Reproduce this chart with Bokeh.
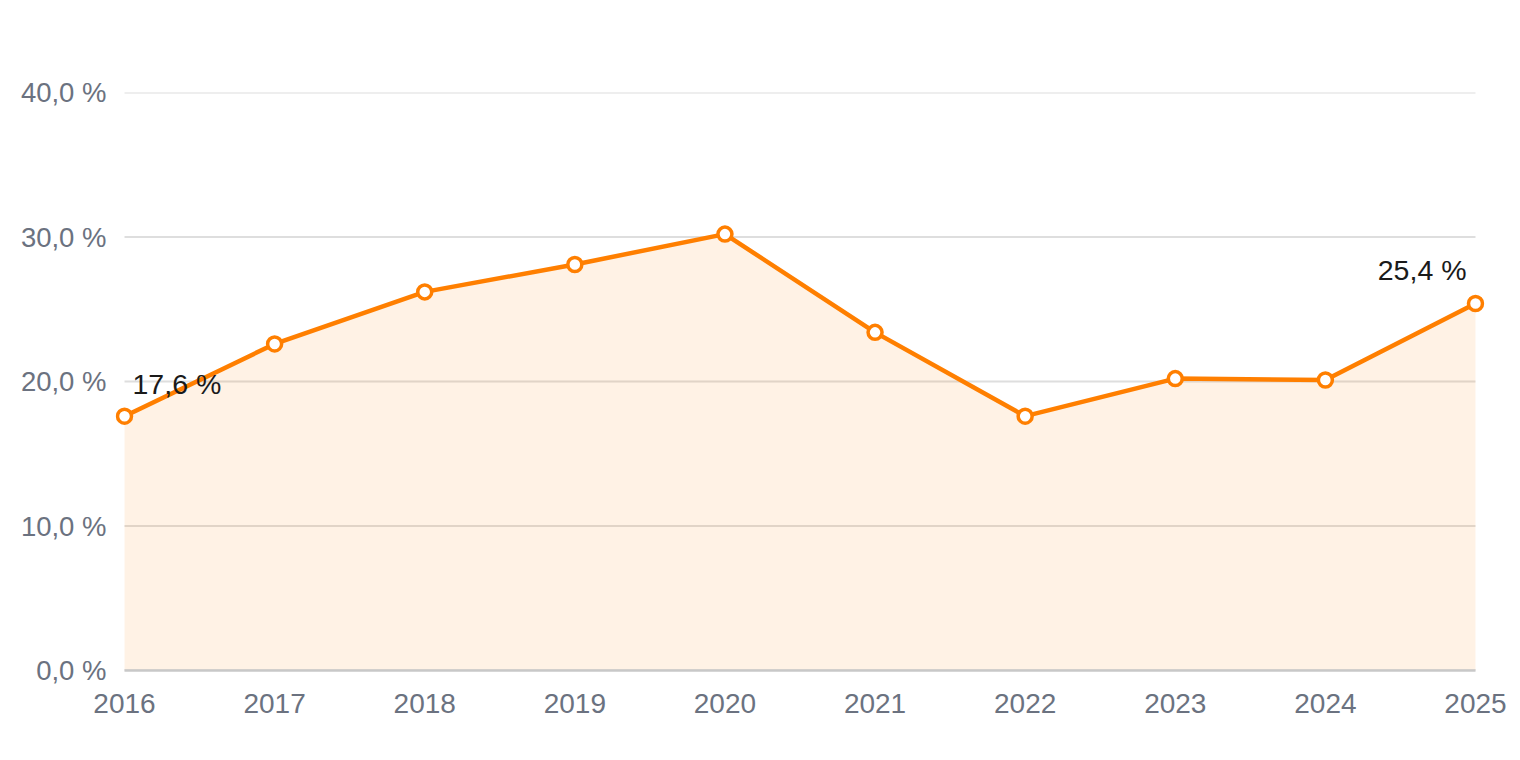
from bokeh.plotting import figure
from bokeh.models import Range1d, FixedTicker, CustomJSTickFormatter, ColumnDataSource
from bokeh.core.properties import value
from bokeh.embed import file_html
from bokeh.resources import INLINE

years = [2016, 2017, 2018, 2019, 2020, 2021, 2022, 2023, 2024, 2025]
share = [17.6, 22.6, 26.2, 28.1, 30.2, 23.4, 17.6, 20.2, 20.1, 25.4]
y_ticks = [0, 10, 20, 30, 40]

ORANGE = "#ff7f00"
GREY_TXT = "#6b7280"
FONT = "Liberation Sans"

pad = 0.06  # a little room so the end markers are not clipped
p = figure(width=1512, height=752, output_backend="svg", toolbar_location=None,
           x_range=Range1d(years[0] - pad, years[-1] + pad), y_range=Range1d(0, 40),
           min_border_left=115, min_border_right=28, min_border_top=92, min_border_bottom=82)
p.outline_line_color = None
p.background_fill_color = "white"
p.border_fill_color = "white"
p.xgrid.visible = False
p.ygrid.visible = False

# horizontal grid lines, only between first and last year
grid = ColumnDataSource(data=dict(x0=[years[0]] * len(y_ticks), x1=[years[-1]] * len(y_ticks), y=y_ticks))
p.segment(x0="x0", x1="x1", y0="y", y1="y", source=grid, line_color="#dedede", line_width=2)

src = ColumnDataSource(data=dict(x=years, y=share))
p.varea(x="x", y1=0, y2="y", source=src, fill_color=ORANGE, fill_alpha=0.1)
p.line(x="x", y="y", source=src, line_color=ORANGE, line_width=4.5)
p.scatter(x="x", y="y", source=src, size=14, fill_color="white", line_color=ORANGE, line_width=3.5)

# end labels
first = ColumnDataSource(data=dict(x=[years[0]], y=[share[0]], t=["17,6 %"]))
last = ColumnDataSource(data=dict(x=[years[-1]], y=[share[-1]], t=["25,4 %"]))
p.text(x="x", y="y", text="t", source=first, x_offset=8, y_offset=-32,
       text_align="left", text_baseline="middle", text_font=value(FONT),
       text_font_size="28.5px", text_color="#1a1a1a")
p.text(x="x", y="y", text="t", source=last, x_offset=-9, y_offset=-33,
       text_align="right", text_baseline="middle", text_font=value(FONT),
       text_font_size="28.5px", text_color="#1a1a1a")

p.xaxis.ticker = FixedTicker(ticks=years)
p.xaxis.bounds = (years[0], years[-1])
p.xaxis.axis_line_color = "#c8c8c8"
p.xaxis.axis_line_width = 2.5
p.xaxis.major_tick_line_color = None
p.xaxis.minor_tick_line_color = None
p.xaxis.major_tick_out = 0
p.xaxis.major_tick_in = 0
p.xaxis.major_label_standoff = 23
p.xaxis.major_label_text_font = FONT
p.xaxis.major_label_text_font_size = "28px"
p.xaxis.major_label_text_color = GREY_TXT

p.yaxis.ticker = FixedTicker(ticks=y_ticks)
p.yaxis.formatter = CustomJSTickFormatter(code="return tick.toFixed(1).replace('.', ',') + ' %';")
p.yaxis.axis_line_color = None
p.yaxis.major_tick_line_color = None
p.yaxis.minor_tick_line_color = None
p.yaxis.major_tick_out = 0
p.yaxis.major_tick_in = 0
p.yaxis.major_label_standoff = 9
p.yaxis.major_label_text_font = FONT
p.yaxis.major_label_text_font_size = "27.5px"
p.yaxis.major_label_text_color = GREY_TXT

open("out.html", "w").write(file_html(p, INLINE))
